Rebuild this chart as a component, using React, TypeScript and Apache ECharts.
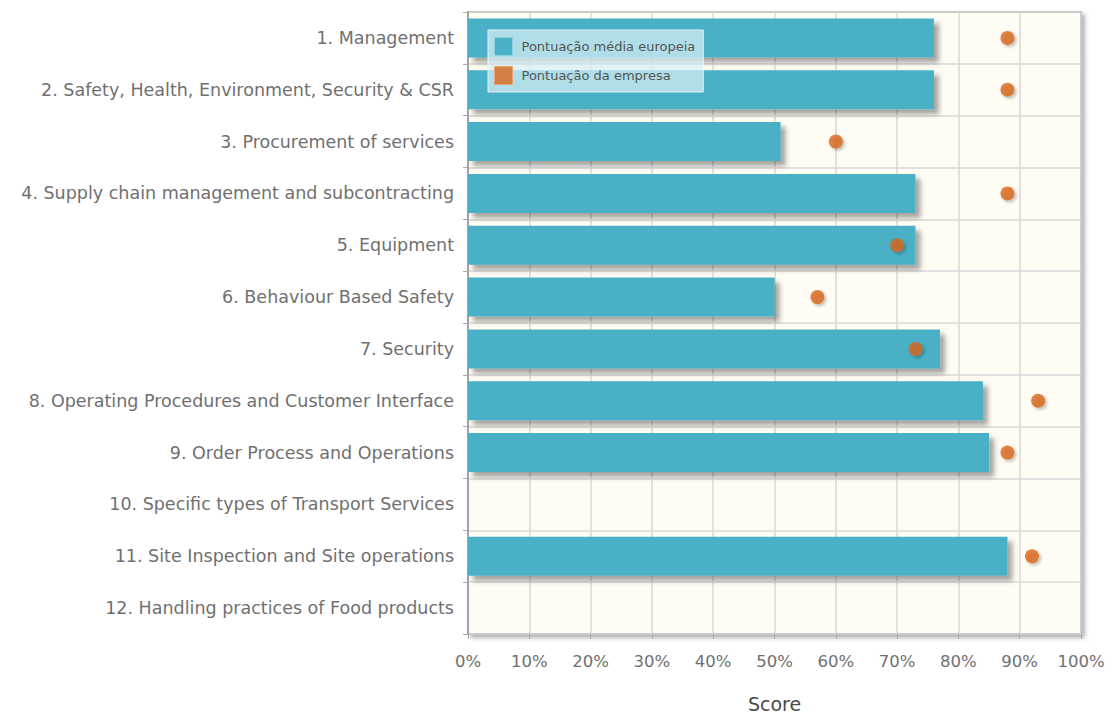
import React, { useEffect, useRef } from "react";
import * as echarts from "echarts";

const categories = [
  "1. Management",
  "2. Safety, Health, Environment, Security & CSR",
  "3. Procurement of services",
  "4. Supply chain management and subcontracting",
  "5. Equipment",
  "6. Behaviour Based Safety",
  "7. Security",
  "8. Operating Procedures and Customer Interface",
  "9. Order Process and Operations",
  "10. Specific types of Transport Services",
  "11. Site Inspection and Site operations",
  "12. Handling practices of Food products",
];

const europeanAverage: (number | null)[] = [76, 76, 51, 73, 73, 50, 77, 84, 85, null, 88, null];
const companyScore: (number | null)[] = [88, 88, 60, 88, 70, 57, 73, 93, 88, null, 92, null];

const xTicks = [0, 10, 20, 30, 40, 50, 60, 70, 80, 90, 100];

const seriesNames = ["Pontuação média europeia", "Pontuação da empresa"];
const axisName = "Score";

export default function App() {
  const ref = useRef<HTMLDivElement>(null);
  useEffect(() => {
    if (!ref.current) return;
    const chart = echarts.init(ref.current, undefined, { renderer: "svg" });
    const font = "'DejaVu Sans', sans-serif";
    chart.setOption({
      animation: false,
      grid: {
        left: 468,
        right: 25,
        top: 12,
        bottom: 79,
        containLabel: false,
        outerBoundsMode: "none",
        show: true,
        backgroundColor: "#fffcf4",
        borderColor: "#a3a3a3",
        borderWidth: 2,
        shadowColor: "rgba(0,0,0,0.3)",
        shadowBlur: 4,
        shadowOffsetX: 3,
        shadowOffsetY: 3,
      },
      legend: {
        left: 488,
        top: 30,
        orient: "vertical",
        itemWidth: 18,
        itemHeight: 18,
        itemGap: 10,
        padding: [7, 8, 7, 6],
        backgroundColor: "rgba(215,240,246,0.72)",
        borderColor: "rgba(235,248,250,0.9)",
        borderWidth: 1,
        textStyle: { color: "#555", fontSize: 13, fontFamily: font, padding: [0, 0, 0, 4] },
        data: [
          { name: seriesNames[0], icon: "rect", itemStyle: { color: "#4ab0c6", borderColor: "#8fd0dd", borderWidth: 1 } },
          { name: seriesNames[1], icon: "rect", itemStyle: { color: "#d9661a", borderColor: "#eea070", borderWidth: 1 } },
        ],
      },
      xAxis: {
        type: "value",
        min: xTicks[0],
        max: xTicks[xTicks.length - 1],
        interval: 10,
        name: axisName,
        nameLocation: "middle",
        nameGap: 60,
        nameTextStyle: { color: "#4a4a4a", fontSize: 19, fontFamily: font, fontWeight: 500 },
        axisLine: { show: false },
        axisTick: { show: true, length: 5, lineStyle: { color: "#aaa" } },
        axisLabel: {
          color: "#707070",
          fontSize: 16.5,
          fontFamily: font,
          margin: 19,
          formatter: (v: number) => v + "%",
        },
        splitLine: { show: true, lineStyle: { color: "#d8d8d8", width: 1.5 } },
      },
      yAxis: {
        type: "category",
        data: categories,
        inverse: true,
        axisLine: { show: true, lineStyle: { color: "#a3a3a3", width: 2 } },
        axisTick: { show: true, length: 5, lineStyle: { color: "#aaa" } },
        axisLabel: { color: "#707070", fontSize: 17.5, fontFamily: font, margin: 14 },
        splitLine: { show: true, lineStyle: { color: "#d8d8d8", width: 1.5 } },
      },
      series: [
        {
          name: seriesNames[0],
          type: "bar",
          data: europeanAverage,
          barWidth: 39,
          itemStyle: {
            color: "#4ab0c6",
            shadowColor: "rgba(0,0,0,0.35)",
            shadowBlur: 5,
            shadowOffsetX: 5,
            shadowOffsetY: 5,
          },
        },
        {
          name: seriesNames[1],
          type: "scatter",
          data: companyScore.map((v, i) => (v == null ? null : [v, categories[i]])).filter((d) => d != null),
          symbol: "circle",
          symbolSize: 14,
          z: 5,
          itemStyle: {
            color: "#d9661a",
            shadowColor: "rgba(0,0,0,0.3)",
            shadowBlur: 3,
            shadowOffsetX: 2,
            shadowOffsetY: 2,
          },
        },
      ],
    });
    return () => chart.dispose();
  }, []);
  return <div ref={ref} style={{ position: "absolute", left: 0, top: 0, width: 1106, height: 713 }} />;
}
